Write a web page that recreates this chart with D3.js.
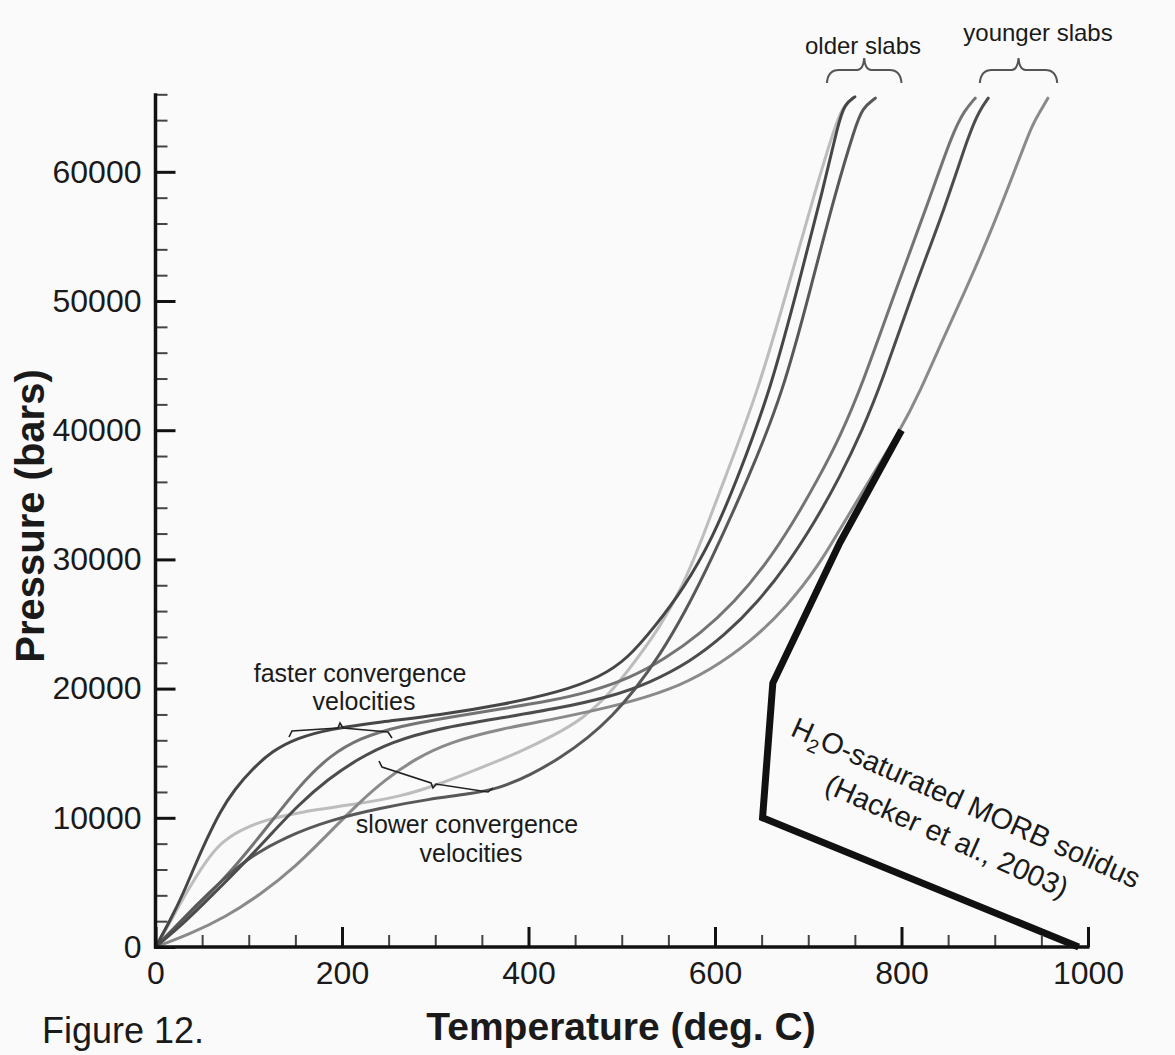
<!DOCTYPE html>
<html><head><meta charset="utf-8">
<script src="https://cdn.jsdelivr.net/npm/d3@7"></script>
<style>
body{margin:0;background:#fafafa}
svg{display:block}
text{font-family:"Liberation Sans",Arial,Helvetica,sans-serif;fill:#1a1a1a}
</style></head><body>
<svg id="chart" width="1175" height="1055"></svg>
<script>
// ---- data: [temperature (deg C), pressure (bars)] ----
const olderSlowLight = [[0,0],[13,1550],[26,3330],[40,5030],[55,6730],[71,8130],[91,9060],[117,9830],[155,10450],[209,10990],[262,11610],[305,12620],[348,13850],[391,15090],[428,16410],[458,17650],[487,19580],[514,22060],[541,24770],[565,27870],[587,31730],[609,36000],[646,42960],[680,51480],[707,58440],[729,63620],[737,65020],[748,65700]];
const olderFast = [[0,0],[16,2090],[30,4180],[42,6270],[55,8360],[69,10450],[85,12230],[104,13780],[125,15170],[152,16180],[187,16870],[241,17410],[305,17960],[370,18730],[434,19740],[477,20900],[506,22290],[536,24840],[566,27710],[597,31580],[624,36220],[660,43190],[691,51700],[716,58670],[732,63700],[739,65250],[750,65800]];
const olderSlow = [[0,0],[21,1550],[42,3100],[69,5030],[101,6970],[139,8510],[187,9830],[241,10760],[294,11460],[337,11840],[370,12310],[402,13310],[434,14630],[464,16180],[490,17880],[514,19890],[541,22600],[568,25930],[595,29800],[635,36150],[673,42880],[704,51400],[729,58360],[750,63390],[758,64940],[772,65700]];
const youngerFast = [[0,0],[26,1780],[53,3720],[80,5800],[107,8130],[134,10600],[160,12930],[187,14790],[219,16180],[262,17110],[316,17800],[370,18420],[423,19040],[466,19740],[509,20820],[546,22290],[584,24230],[621,26700],[654,29570],[683,32740],[710,36150],[734,39470],[759,43730],[793,50700],[827,57280],[855,63080],[868,64790],[879,65700]];
const youngerMid = [[0,0],[32,1940],[61,4030],[91,6190],[121,8510],[153,10990],[185,13000],[217,14550],[252,15860],[305,16950],[370,17720],[434,18500],[487,19350],[530,20440],[573,22060],[611,24150],[646,26700],[678,29650],[707,32900],[734,36380],[758,40020],[779,43730],[812,50700],[847,57280],[873,63080],[884,64790],[893,65700]];
const youngerSlow = [[0,0],[37,1000],[75,2320],[112,4030],[150,6190],[187,8900],[219,11220],[246,12930],[278,14550],[316,15870],[370,16880],[434,17730],[498,18730],[552,19890],[595,21440],[638,23610],[677,26320],[712,29600],[737,32700],[767,36300],[798,39900],[820,43000],[843,46830],[868,50700],[898,55730],[927,61150],[940,63620],[949,64710],[957,65700]];
const solidus = [[990,0],[651,10000],[662,20430],[734,31300],[800,40000]];

const xMajor = [0,200,400,600,800,1000];
const yMajor = [0,10000,20000,30000,40000,50000,60000];

const pathSeries = [
  {data: olderSlowLight, color: "#bdbdbd"},
  {data: youngerSlow, color: "#8a8a8a"},
  {data: youngerFast, color: "#747474"},
  {data: olderSlow, color: "#585858"},
  {data: youngerMid, color: "#4c4c4c"},
  {data: olderFast, color: "#464646"}
];

// ---- drawing ----
const svg = d3.select("#chart");
const x = d3.scaleLinear().domain([0,1000]).range([155.5,1088]);
const y = d3.scaleLinear().domain([0,66000]).range([947,94.3]);

const line = d3.line().x(d=>x(d[0])).y(d=>y(d[1])).curve(d3.curveBasis);

svg.append("g").selectAll("path").data(pathSeries).join("path")
  .attr("d", d=>line(d.data)).attr("fill","none")
  .attr("stroke", d=>d.color).attr("stroke-width",3)
  .attr("stroke-linecap","round").attr("stroke-linejoin","round");

svg.append("path").attr("d", d3.line().x(d=>x(d[0])).y(d=>y(d[1]))(solidus))
  .attr("fill","none").attr("stroke","#111").attr("stroke-width",7)
  .attr("stroke-linejoin","miter");

// axes
const yMinor = d3.range(0,66001,2000).filter(v=>v%10000!==0);
const xMinor = d3.range(0,1001,50).filter(v=>v%200!==0);

const gy = svg.append("g").attr("transform",`translate(${x(0)},0)`);
gy.call(d3.axisLeft(y).tickValues(yMinor).tickSize(-12).tickSizeOuter(0).tickFormat(""));
gy.selectAll(".tick line").attr("stroke","#444").attr("stroke-width",2);
gy.select(".domain").remove();
const gy2 = svg.append("g").attr("transform",`translate(${x(0)},0)`);
gy2.call(d3.axisLeft(y).tickValues(yMajor).tickSize(-20).tickSizeOuter(0).tickPadding(14).tickFormat(d3.format("d")));
gy2.selectAll(".tick line").attr("stroke","#111").attr("stroke-width",3);
gy2.selectAll(".tick text").attr("font-size",32).attr("fill","#1a1a1a")
  .style("font-family",'"Liberation Sans",Arial,sans-serif');
gy2.select(".domain").remove();

const gx = svg.append("g").attr("transform",`translate(0,${y(0)})`);
gx.call(d3.axisBottom(x).tickValues(xMinor).tickSize(-12).tickSizeOuter(0).tickFormat(""));
gx.selectAll(".tick line").attr("stroke","#444").attr("stroke-width",2);
gx.select(".domain").remove();
const gx2 = svg.append("g").attr("transform",`translate(0,${y(0)})`);
gx2.call(d3.axisBottom(x).tickValues(xMajor).tickSize(-20).tickSizeOuter(0).tickPadding(14).tickFormat(d3.format("d")));
gx2.selectAll(".tick line").attr("stroke","#111").attr("stroke-width",3);
gx2.selectAll(".tick text").attr("font-size",32).attr("fill","#1a1a1a")
  .style("font-family",'"Liberation Sans",Arial,sans-serif');
gx2.select(".domain").remove();

svg.append("line").attr("x1",x(0)).attr("x2",x(0)).attr("y1",y(0)+1.5).attr("y2",y(66000)-1)
  .attr("stroke","#111").attr("stroke-width",3.5);
svg.append("line").attr("x1",x(0)-1.5).attr("x2",x(1000)+1.5).attr("y1",y(0)).attr("y2",y(0))
  .attr("stroke","#111").attr("stroke-width",3.5);

// axis titles
svg.append("text").attr("transform","translate(44,516) rotate(-90)")
  .attr("text-anchor","middle").attr("font-size",40).attr("font-weight","bold").text("Pressure (bars)");
svg.append("text").attr("x",621).attr("y",1040)
  .attr("text-anchor","middle").attr("font-size",39).attr("font-weight","bold").text("Temperature (deg. C)");
svg.append("text").attr("x",42).attr("y",1043).attr("font-size",36).text("Figure 12.");

// slab group labels and braces
function brace(x0,x1,yb,ytop){
  const xm=(x0+x1)/2, yl=yb-13;
  return `M${x0},${yb} Q${x0+1},${yl} ${x0+12},${yl} L${xm-7},${yl} Q${xm-1},${yl} ${xm},${ytop} Q${xm+1},${yl} ${xm+7},${yl} L${x1-12},${yl} Q${x1-1},${yl} ${x1},${yb}`;
}
svg.append("path").attr("d",brace(x(720),x(800),83,58)).attr("fill","none").attr("stroke","#555").attr("stroke-width",2);
svg.append("path").attr("d",brace(x(884),x(967),83,58)).attr("fill","none").attr("stroke","#555").attr("stroke-width",2);
svg.append("text").attr("x",863).attr("y",54).attr("text-anchor","middle").attr("font-size",24).text("older slabs");
svg.append("text").attr("x",1038).attr("y",41).attr("text-anchor","middle").attr("font-size",24).text("younger slabs");

// convergence annotations
svg.append("text").attr("x",360).attr("y",682).attr("text-anchor","middle").attr("font-size",25).text("faster convergence");
svg.append("text").attr("x",364).attr("y",710).attr("text-anchor","middle").attr("font-size",25).text("velocities");
svg.append("text").attr("x",467).attr("y",833).attr("text-anchor","middle").attr("font-size",25).text("slower convergence");
svg.append("text").attr("x",471).attr("y",862).attr("text-anchor","middle").attr("font-size",25).text("velocities");

svg.append("path").attr("d","M289,737 L292,731 L338,728 L340,723 L343,728 L388,732 L392,738")
  .attr("fill","none").attr("stroke","#222").attr("stroke-width",1.6);
svg.append("path").attr("d","M379,761 L382,767 L431,783 L433,788 L436,784 L488,792 L493,788")
  .attr("fill","none").attr("stroke","#222").attr("stroke-width",1.6);

// solidus label
const lab = svg.append("g").attr("transform","translate(962,812) rotate(24)");
const t1 = lab.append("text").attr("text-anchor","middle").attr("font-size",29);
t1.append("tspan").text("H");
t1.append("tspan").attr("font-size",19).attr("dy",7).text("2");
t1.append("tspan").attr("dy",-7).text("O-saturated MORB solidus");
lab.append("text").attr("text-anchor","middle").attr("font-size",29).attr("x",-4).attr("y",38).text("(Hacker et al., 2003)");
</script></body></html>
